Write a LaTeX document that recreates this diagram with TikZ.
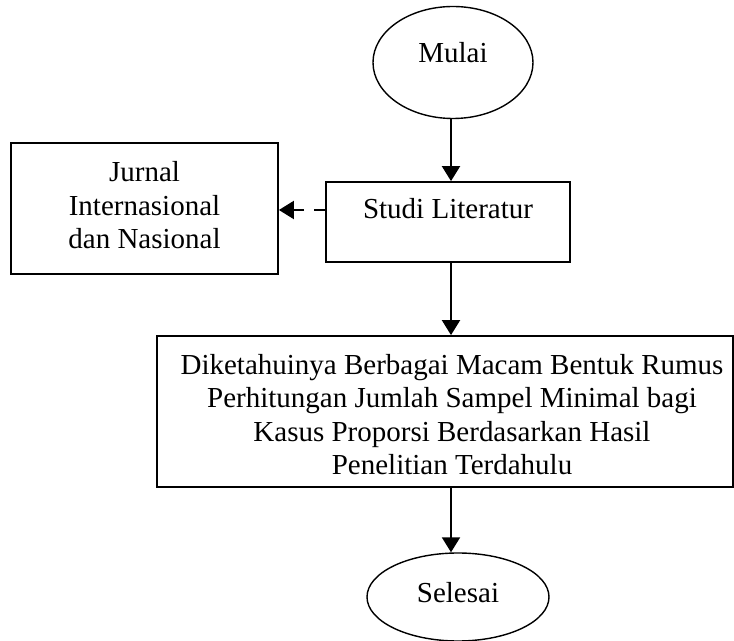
\documentclass[tikz,border=0pt]{standalone}
\usepackage{fontspec}
\setmainfont{Liberation Serif}
\usetikzlibrary{arrows.meta,shapes.geometric,calc}
\begin{document}
\begin{tikzpicture}[x=0.5pt,y=-0.5pt,
  every node/.style={font=\fontsize{14.5pt}{16.75pt}\selectfont, inner sep=0pt},
  oval/.style={draw, ellipse, line width=0.7pt},
  box/.style={draw, rectangle, line width=0.9pt},
  arr/.style={line width=1pt, -{Triangle[length=7.5pt,width=9pt]}},
  darr/.style={arr, dash pattern=on 5.5pt off 5pt}]
\useasboundingbox (0,0) rectangle (734,641);
\node[oval, minimum width=80pt, minimum height=56pt, text height=6pt, text depth=6pt] (mulai) at (453,62.5) {Mulai};
\node[box, minimum width=122pt, minimum height=40pt, text height=10pt, text depth=13pt] (studi) at (448,222) {Studi Literatur};
\node[box, minimum width=133.5pt, minimum height=65.5pt, text height=10pt, text depth=36.5pt] (jurnal) at (144.5,208.5)
  {\begin{tabular}[t]{@{}c@{}}Jurnal\\Internasional\\dan Nasional\end{tabular}};
\node[box, minimum width=288pt, minimum height=75.5pt, text height=10pt, text depth=47pt] (big) at (445,411.5)
  {\hspace*{7pt}\begin{tabular}[t]{@{}c@{}}Diketahuinya Berbagai Macam Bentuk Rumus\\Perhitungan Jumlah Sampel Minimal bagi\\Kasus Proporsi Berdasarkan Hasil\\Penelitian Terdahulu\end{tabular}};
\node[oval, minimum width=91pt, minimum height=44pt, text height=10pt, text depth=4pt] (selesai) at (458,597) {Selesai};
\coordinate (ax) at (451,0);
\coordinate (dy) at (0,210);
\draw[arr] (mulai.south -| ax) -- (studi.north -| ax);
\draw[arr] (studi.south -| ax) -- (big.north -| ax);
\draw[arr] (big.south -| ax) -- (selesai.north -| ax);
\draw[darr] (studi.west |- dy) -- (jurnal.east |- dy);
\end{tikzpicture}
\end{document}
